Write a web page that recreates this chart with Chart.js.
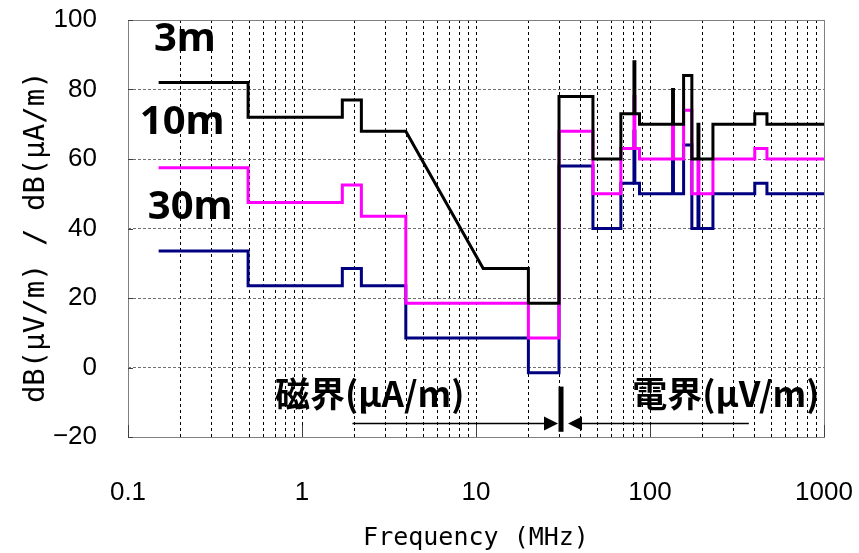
<!DOCTYPE html>
<html>
<head>
<meta charset="utf-8">
<title>Radiated emission limits</title>
<script src="https://cdn.jsdelivr.net/npm/chart.js@4/dist/chart.umd.min.js"></script>
<style>
  html, body { margin: 0; padding: 0; background: #ffffff; }
  #wrap { width: 859px; height: 553px; }
</style>
</head>
<body>
<div id="wrap"><canvas id="chart" width="859" height="553"></canvas></div>
<script>
// Band edges in MHz: magnetic-field range (0.15-30) and electric-field range (30-1000)
const magEdges  = [0.15, 0.49, 1.705, 2.194, 3.95, 11, 20, 30];
const elecEdges = [30, 47, 68, 80.872, 81.848, 87, 134.786, 136.414, 156, 174, 188.7, 190.979, 230, 400, 470, 1000];

// Limit level of each band; null marks a band that slopes from the previous level to the next one
const mag3m  = [82, 72, 77, 68, null, 28.5, 18.5];
const mag10m = [57.5, 47.5, 52.5, 43.5, 18.5, 18.5, 8.5];
const mag30m = [33.5, 23.5, 28.5, 23.5, 8.5, 8.5, -1.5];

const elec3m  = [78, 60, 73, 88, 73, 70, 80, 70, 84, 60, 70, 60, 70, 73, 70];
const elec10m = [68, 50, 63, 78, 63, 60, 70, 60, 74, 50, 60, 50, 60, 63, 60];
const elec30m = [58, 40, 53, 68, 53, 50, 60, 50, 64, 40, 50, 40, 50, 53, 50];

const distanceLabels = ['3m', '10m', '30m'];
const seriesColors   = ['#000000', '#ff00ff', '#000080'];
const xTickLabels    = ['0.1', '1', '10', '100', '1000'];
const yTickValues    = [-20, 0, 20, 40, 60, 80, 100];

// Turn band edges + levels into the vertices of a stepped limit line
function steps(edges, levels) {
  const pts = [];
  levels.forEach((lv, i) => {
    if (lv === null) return;
    pts.push({ x: edges[i], y: lv }, { x: edges[i + 1], y: lv });
  });
  return pts;
}
const limitLine = (magLevels, elecLevels) =>
  steps(magEdges, magLevels).concat(steps(elecEdges, elecLevels));

const seriesData = [limitLine(mag3m, elec3m), limitLine(mag10m, elec10m), limitLine(mag30m, elec30m)];

const TICK_FONT = { family: '"Liberation Sans", Arial, sans-serif', size: 26 };
const TITLE_FONT = { family: '"DejaVu Sans Mono", "Liberation Mono", monospace' };

// keep the plot rectangle fixed: no extra room reserved for overhanging tick labels
function fixedBox(scale, size) {
  if (scale.isHorizontal()) scale.height = size; else scale.width = size;
  scale.paddingTop = 0;
  scale.paddingBottom = 0;
  scale.paddingLeft = 0;
  scale.paddingRight = 0;
}

// Frame, inward tick marks, distance labels and the field-range arrows
const decorations = {
  id: 'decorations',
  afterDatasetsDraw(chart) {
    const { ctx, chartArea: a, scales: { x, y } } = chart;
    ctx.save();

    // plot frame
    ctx.strokeStyle = '#808080';
    ctx.lineWidth = 1;
    ctx.strokeRect(Math.round(a.left) + 0.5, Math.round(a.top) + 0.5,
                   Math.round(a.right - a.left), Math.round(a.bottom - a.top));

    // inward tick marks
    ctx.strokeStyle = '#404040';
    ctx.beginPath();
    yTickValues.forEach(v => {
      const py = Math.round(y.getPixelForValue(v)) + 0.5;
      ctx.moveTo(a.left, py); ctx.lineTo(a.left + 5, py);
    });
    xTickLabels.forEach(t => {
      const px = Math.round(x.getPixelForValue(parseFloat(t))) + 0.5;
      ctx.moveTo(px, a.bottom); ctx.lineTo(px, a.bottom - 12);
    });
    ctx.stroke();

    // distance labels
    ctx.fillStyle = '#000';
    ctx.textBaseline = 'middle';
    ctx.textAlign = 'left';
    ctx.font = 'bold 40px "Noto Sans", sans-serif';
    const labelPos = [[0.141, 94.4], [0.117, 70.4], [0.130, 46.0]];
    distanceLabels.forEach((t, i) => {
      ctx.fillText(t, x.getPixelForValue(labelPos[i][0]), y.getPixelForValue(labelPos[i][1]));
    });

    // field-range captions
    ctx.font = 'bold 35px "Noto Sans CJK JP", sans-serif';
    ctx.fillText('磁界(μA/m)', x.getPixelForValue(0.70), y.getPixelForValue(-7.6));
    ctx.fillText('電界(μV/m)', x.getPixelForValue(79), y.getPixelForValue(-7.6));

    // boundary bar at 30 MHz with arrows on both sides
    const bx = x.getPixelForValue(30) + 2;
    const ay = Math.round(y.getPixelForValue(-16)) + 0.5;
    ctx.fillRect(bx - 2.5, y.getPixelForValue(-5.5), 5, y.getPixelForValue(-18.5) - y.getPixelForValue(-5.5));

    ctx.lineWidth = 1.5;
    ctx.strokeStyle = '#000';
    const leftTip = bx - 3, rightTip = bx + 7;
    ctx.beginPath();
    ctx.moveTo(x.getPixelForValue(1.95), ay); ctx.lineTo(leftTip - 10, ay);
    ctx.moveTo(rightTip + 10, ay); ctx.lineTo(x.getPixelForValue(370), ay);
    ctx.stroke();
    ctx.beginPath();
    ctx.moveTo(leftTip, ay); ctx.lineTo(leftTip - 14, ay - 7); ctx.lineTo(leftTip - 14, ay + 7); ctx.closePath();
    ctx.moveTo(rightTip, ay); ctx.lineTo(rightTip + 14, ay - 7); ctx.lineTo(rightTip + 14, ay + 7); ctx.closePath();
    ctx.fill();

    ctx.restore();
  }
};

new Chart(document.getElementById('chart'), {
  type: 'scatter',
  data: {
    datasets: seriesData.map((d, i) => ({
      label: distanceLabels[i],
      data: d,
      showLine: true,
      borderColor: seriesColors[i],
      backgroundColor: seriesColors[i],
      borderWidth: 3,
      borderJoinStyle: 'miter',
      pointRadius: 0,
      pointHoverRadius: 0,
      tension: 0,
      fill: false
    }))
  },
  options: {
    responsive: false,
    animation: false,
    devicePixelRatio: 1,
    layout: { padding: { top: 20, right: 35, left: 0, bottom: 0 } },
    plugins: { legend: { display: false }, tooltip: { enabled: false } },
    scales: {
      x: {
        type: 'logarithmic',
        min: 0.1,
        max: 1000,
        afterBuildTicks(scale) {
          const t = [];
          for (let e = -1; e <= 2; e++) {
            for (let m = 1; m <= 9; m++) t.push({ value: m * Math.pow(10, e), major: m === 1 });
          }
          t.push({ value: 1000, major: true });
          scale.ticks = t;
        },
        afterFit(scale) { fixedBox(scale, 116); },
        ticks: {
          autoSkip: false,
          maxRotation: 0,
          padding: 40,
          color: '#000',
          font: TICK_FONT,
          callback(value, index, ticks) {
            if (!ticks[index].major) return '';
            return xTickLabels[Math.round(Math.log10(value)) + 1];
          }
        },
        grid: { color: '#000000', lineWidth: 1, drawTicks: false },
        border: { display: false, dash: [3, 3] },
        title: {
          display: true,
          text: 'Frequency (MHz)',
          color: '#000',
          font: Object.assign({ size: 25 }, TITLE_FONT),
          padding: { top: 0, bottom: 0 }
        }
      },
      y: {
        min: -20,
        max: 100,
        afterBuildTicks(scale) { scale.ticks = yTickValues.map(v => ({ value: v })); },
        afterFit(scale) { fixedBox(scale, 128); },
        ticks: {
          padding: 31,
          color: '#000',
          font: TICK_FONT,
          callback: v => (v < 0 ? '\u2212' + Math.abs(v) : String(v))
        },
        grid: { color: '#707070', lineWidth: 1, drawTicks: false },
        border: { display: false, dash: [3, 2] },
        title: {
          display: true,
          text: 'dB(μV/m) / dB(μA/m) ',
          color: '#000',
          font: Object.assign({ size: 29 }, TITLE_FONT),
          padding: { top: 19, bottom: 0 }
        }
      }
    }
  },
  plugins: [decorations]
});
</script>
</body>
</html>
